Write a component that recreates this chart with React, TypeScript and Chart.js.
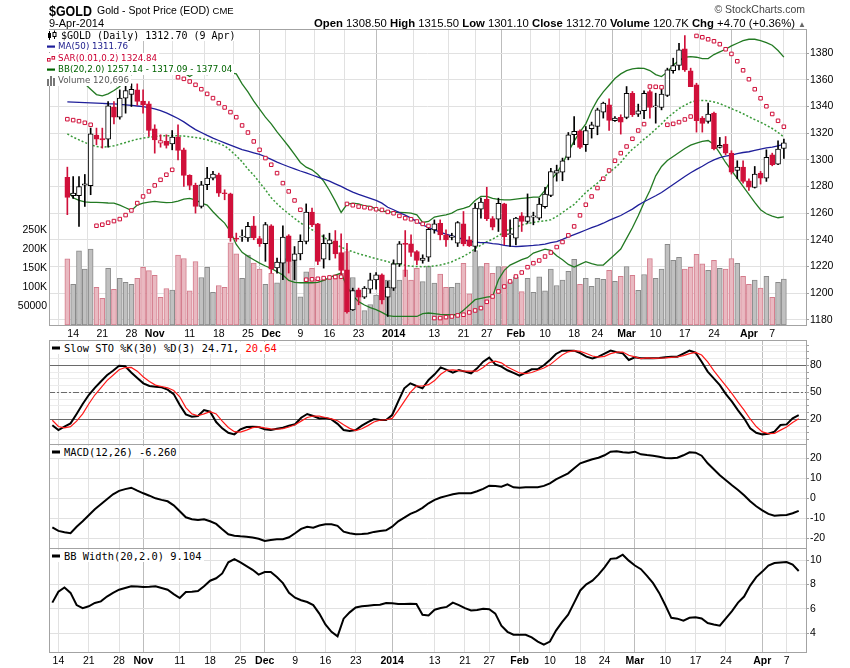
import React, { useEffect, useRef } from 'react';
import { Chart, registerables } from 'chart.js';
Chart.register(...registerables);

// ---------------- DATA ----------------
const DATES = [
  '2013-10-11','2013-10-14','2013-10-15','2013-10-16','2013-10-17','2013-10-18','2013-10-21','2013-10-22','2013-10-23','2013-10-24',
  '2013-10-25','2013-10-28','2013-10-29','2013-10-30','2013-10-31','2013-11-01','2013-11-04','2013-11-05','2013-11-06','2013-11-07',
  '2013-11-08','2013-11-11','2013-11-12','2013-11-13','2013-11-14','2013-11-15','2013-11-18','2013-11-19','2013-11-20','2013-11-21',
  '2013-11-22','2013-11-25','2013-11-26','2013-11-27','2013-11-29','2013-12-02','2013-12-03','2013-12-04','2013-12-05','2013-12-06',
  '2013-12-09','2013-12-10','2013-12-11','2013-12-12','2013-12-13','2013-12-16','2013-12-17','2013-12-18','2013-12-19','2013-12-20',
  '2013-12-23','2013-12-24','2013-12-26','2013-12-27','2013-12-30','2013-12-31','2014-01-02','2014-01-03','2014-01-06','2014-01-07',
  '2014-01-08','2014-01-09','2014-01-10','2014-01-13','2014-01-14','2014-01-15','2014-01-16','2014-01-17','2014-01-21','2014-01-22',
  '2014-01-23','2014-01-24','2014-01-27','2014-01-28','2014-01-29','2014-01-30','2014-01-31','2014-02-03','2014-02-04','2014-02-05',
  '2014-02-06','2014-02-07','2014-02-10','2014-02-11','2014-02-12','2014-02-13','2014-02-14','2014-02-18','2014-02-19','2014-02-20',
  '2014-02-21','2014-02-24','2014-02-25','2014-02-26','2014-02-27','2014-02-28','2014-03-03','2014-03-04','2014-03-05','2014-03-06',
  '2014-03-07','2014-03-10','2014-03-11','2014-03-12','2014-03-13','2014-03-14','2014-03-17','2014-03-18','2014-03-19','2014-03-20',
  '2014-03-21','2014-03-24','2014-03-25','2014-03-26','2014-03-27','2014-03-28','2014-03-31','2014-04-01','2014-04-02','2014-04-03',
  '2014-04-04','2014-04-07','2014-04-08','2014-04-09'
];

const OPEN = [
  1286.8,1273,1273,1281,1280.5,1318.5,1316,1315.5,1339.5,1332,
  1346.3,1349,1352.5,1344,1342,1323.3,1312.5,1313.8,1312,1317,
  1307.5,1288.3,1280.8,1265,1281.3,1286.3,1288.8,1275,1274.5,1241,
  1242,1241.3,1250.5,1240.8,1237,1250.5,1218.8,1222.5,1243,1224.4,
  1229.4,1238.7,1260.7,1251.9,1225.4,1236.9,1239.2,1230.4,1217.4,1187.4,
  1202.4,1196.9,1202.9,1209.9,1213.7,1196.9,1203.7,1221.9,1237.4,1236.9,
  1231.2,1224.4,1226.9,1247.4,1252.4,1243.7,1241.7,1237.4,1251.9,1239.9,
  1234.9,1262.9,1270.4,1255.9,1255.4,1266.9,1243.9,1241.2,1257.9,1253.7,
  1256.9,1256.2,1264.9,1273.2,1290,1290.8,1301.8,1318.8,1321.8,1311.3,
  1323.3,1325,1335.8,1341.3,1329.3,1331.8,1331.8,1350,1334.3,1336.8,
  1351.3,1339.8,1339.3,1348.3,1367,1370.8,1383.3,1366.8,1356.3,1331.3,
  1328.8,1335,1309.3,1311.8,1305,1292,1294.5,1284.3,1279.3,1290,
  1286.3,1303.8,1296.8,1308.5
];
const HIGH = [
  1294.5,1287.5,1287.5,1289,1323.8,1323.8,1323.8,1343.8,1343.8,1352.5,
  1356.3,1357,1357,1352.5,1343.8,1326.3,1318.8,1318.8,1322,1326.3,
  1308.8,1288.8,1282.5,1283.8,1294.3,1291.3,1290,1277.5,1275,1245,
  1247.5,1253,1257.5,1242.5,1253,1251.3,1226.3,1250.5,1243.8,1234.9,
  1243.7,1266.9,1263.7,1252.4,1243.7,1244.9,1246.9,1244.4,1237.4,1203.7,
  1203.7,1204.9,1214.9,1215.4,1214.4,1208.7,1224.9,1238.7,1246.9,1243.7,
  1231.9,1228.7,1250,1254.9,1254.9,1247.4,1244.9,1253.7,1261.2,1242.4,
  1267.4,1271.2,1279.4,1257.4,1271.2,1267.4,1254.9,1256.9,1260.4,1274.4,
  1260.7,1271.2,1279.4,1293.7,1296,1301.3,1320.5,1332.5,1322.5,1325,
  1328.3,1338.8,1343.3,1345.8,1332.5,1333.8,1355,1351.3,1341.8,1351.8,
  1352.5,1350,1355,1368.8,1376.3,1387.5,1393.3,1368.8,1357.5,1332.5,
  1342.5,1335.8,1316.8,1317.5,1306.8,1299.3,1299.3,1285.8,1295,1291.3,
  1307.5,1305,1314.3,1315.5
];
const LOW = [
  1258.8,1271,1250,1265,1273.8,1311.3,1308.8,1309.5,1327,1330.5,
  1335,1340,1341,1335,1317.5,1305,1309.5,1308.8,1307.5,1300,
  1280,1277.5,1260,1263.8,1277.5,1285,1272.5,1270,1238.8,1238.8,
  1238.8,1238.8,1240,1235,1223.8,1215,1215,1210,1215,1210,
  1224.9,1236.9,1249.9,1221.2,1218.7,1224.9,1226.2,1212.4,1184.9,1186.9,
  1191.2,1195.9,1199.9,1202.9,1191.9,1182.4,1201.9,1219.9,1212.4,1227.4,
  1221.2,1222.4,1223.7,1244.9,1239.9,1234.9,1239.9,1234.9,1235.4,1234.9,
  1231.2,1256.2,1254.4,1247.4,1246.2,1236.2,1234.9,1236.2,1246.2,1252.4,
  1251.2,1254.9,1263.7,1272.4,1284,1284.3,1300,1311.3,1308.3,1306.3,
  1316.3,1318.8,1331.3,1322,1328.8,1319.3,1330.8,1332.5,1332.5,1330.8,
  1331.3,1327.5,1337.5,1347.5,1365,1367.5,1366.3,1355,1320.8,1320.8,
  1327.5,1307.5,1308.8,1303.8,1289.3,1285.8,1282.5,1277,1278.8,1281.8,
  1283.8,1295.5,1296.3,1301.1
];
const CLOSE = [
  1271.8,1275,1280,1282,1319.5,1315.5,1315,1340.5,1332,1346.3,
  1352,1353,1343.8,1341.3,1322,1315,1314.5,1310.8,1317,1307,
  1288.3,1280.8,1265,1281.3,1286.3,1289.3,1275,1274.5,1241.3,1240.5,
  1242.5,1250,1241.3,1237,1251.3,1218,1223.3,1242,1223.8,1229.4,
  1238.9,1260.7,1251.2,1223.7,1237.4,1239.9,1229.4,1216.9,1185.9,1201.9,
  1196.9,1203.7,1209.9,1213.7,1194.9,1204.4,1221.9,1236.9,1236.4,1230.4,
  1224.4,1226.2,1247.9,1251.9,1243.7,1239.9,1242.9,1252.9,1236.9,1235.4,
  1263.7,1268.2,1255.9,1249.4,1267.4,1242.4,1244.4,1256.2,1253.7,1257.4,
  1257.9,1266.7,1274.2,1291.2,1292,1299.3,1318.8,1321.3,1309.3,1322,
  1326.3,1337.5,1342.5,1329.5,1331.3,1328.3,1350,1333.8,1336.8,1350,
  1339.3,1340.3,1349.3,1367.5,1370.8,1382.5,1367.5,1355,1329.3,1327.3,
  1334.3,1308.3,1310.8,1305,1290.8,1294.5,1283.8,1279.5,1289.3,1286.3,
  1301.8,1296.3,1308,1312.7
];
// volume in thousands
const VOLUME = [
  174,107,195,147,200,99,70,149,94,123,
  112,107,123,152,143,131,73,96,92,184,
  175,90,167,125,152,86,104,99,216,187,
  123,184,163,147,107,136,111,175,168,178,
  74,140,149,120,118,123,132,136,193,125,
  75,38,54,79,92,118,162,118,145,118,
  149,114,155,110,134,99,99,110,162,82,
  196,154,162,136,154,154,114,127,88,123,
  86,127,90,147,104,118,141,173,107,123,
  102,123,120,144,115,128,154,131,91,133,
  175,123,147,212,170,178,147,152,186,161,
  144,170,149,147,175,162,128,107,118,97,
  128,73,112,120.7
];
const MA50 = [
  1343.5,1343.3,1343.1,1342.9,1342.7,1342.5,1342.3,1342.1,1342,1341.6,
  1341.2,1340.8,1340.4,1340,1339.2,1338.2,1337,1335.2,1333.2,1331,
  1328.5,1325.5,1322.7,1320.5,1318.3,1316.3,1314.5,1312.7,1311,1309.3,
  1307.7,1306.5,1305.3,1304,1302.3,1300.3,1298.3,1296.5,1294.8,1293.2,
  1291.6,1290.2,1288.6,1287,1285.5,1284,1282,1280,1277.8,1275.8,
  1274,1272.5,1271,1269.5,1267.5,1264.4,1262.5,1260.4,1258.5,1256.2,
  1253.6,1251.1,1249.2,1247.4,1245.8,1244.3,1242.9,1241.7,1240.1,1238.7,
  1238.2,1237.9,1237.8,1237.1,1236.7,1235.8,1235.2,1234.8,1235.1,1235.4,
  1235.7,1236.1,1236.7,1237.8,1238.6,1240.3,1242.2,1243.8,1245.5,1247.3,
  1249.1,1250.6,1252.4,1254.5,1256.4,1258.2,1260.6,1263,1266,1268.5,
  1270.8,1273,1275.5,1278.5,1281.5,1284.5,1287.5,1290.3,1292.8,1295.2,
  1297.8,1300,1301.6,1302.7,1303.6,1304.7,1305.5,1306.05,1307.1,1308.1,
  1308.9,1309.45,1310.5,1311.76
];
const SAR = [
  1330.5,1329.8,1329,1327.8,1326.3,
  1250.5,1251.3,1252.8,1254,1255.5,1258.5,1262,1267.5,1272.5,1276.3,1280.8,1285,1288.8,1292.5,
  1362,1360.8,1358.8,1356.3,1353,1349.5,1346.3,1342.5,1339.3,1335.8,1332,1325.8,1320.5,1313.8,1307.5,1301.3,1296.3,1290,1282.5,1276.3,1269.5,1262.5,
  1210,1210.3,1210.7,1211.2,1211.7,1212,1212.2,
  1266.9,1265.9,1264.9,1264.4,1263.7,1262.9,1262.4,1260.9,1259.9,1257.9,1256.2,1255.4,1253.7,1251.9,1250.4,
  1181.2,1181.2,1181.9,1182.4,1183.2,1183.7,1185.4,1186.9,1188.7,1193.4,1197.4,1201.2,1204.9,1208.7,1212.4,1215.4,1219.4,1222.4,1224.4,1227.4,1230.4,1234.5,1238.3,1243.3,1250,1258.3,1266.3,1272.5,1278.8,1285.8,1292,1299.3,1305,1310,1315.8,1322,1326.8,
  1355,1354.8,1354.5,
  1326.3,1327,1328.3,1330.3,1332.5,
  1393,1392,1390.5,1389,1386.8,1383,1379.5,1374,1367.2,1360.5,1353,1346.2,1340.2,1334.4,1329.3,1324.84
];
const BB_UP = [
  1364,1362,1360,1357,1353,1349,1348,1349.5,1352,1355,
  1361,1364,1366,1368,1368.5,1368.7,1369.4,1369.7,1368.7,1367.8,
  1365.2,1362.6,1365.4,1364.7,1364,1365,1366.7,1366.2,1365.2,1364.5,
  1357,1351,1344,1338,1332,1327,1321,1315.5,1310,1304,
  1298,1294.5,1292.5,1289,1284,1277,1269,1260.5,1266.5,1267.5,
  1267,1265.5,1265,1263,1261.5,1261,1260.5,1260.5,1260.3,1260,
  1258.7,1253,1253.7,1257,1258,1258.7,1260,1262.5,1263.5,1265,
  1269.5,1272.5,1272.5,1271,1270.3,1270,1270,1270.5,1271,1271.5,
  1272,1272,1277,1285,1290,1297,1306,1314,1321,1327,
  1337,1345,1351,1356,1361,1364.5,1367,1368.3,1368.8,1368.7,
  1367,1364,1362.5,1366,1371,1374.5,1377,1377.5,1377,1376,
  1376,1379,1381,1383,1385.5,1387.5,1389.5,1390.5,1390.5,1389.5,
  1388,1386,1382,1377.04
];
const BB_MID = [
  1319.5,1317,1315,1313,1311.3,1310,1309.5,1309.8,1310.5,1311.7,
  1313,1314.3,1315.5,1316.3,1317,1317.5,1318,1318,1318,1318,
  1317.8,1317.3,1316.8,1316,1315,1313.5,1312.2,1310.5,1307,1303,
  1298.5,1293,1288.5,1283,1277.5,1271.5,1267,1263,1259.5,1256,
  1252.7,1250,1247.5,1245,1242,1239,1236.5,1234.5,1232.5,1231,
  1229.5,1228.3,1227,1225.8,1224.7,1223.5,1222.3,1221.5,1220.8,1220.2,
  1219.9,1219.8,1219.9,1220.3,1221,1222,1223.5,1225.5,1227.5,1230,
  1233.5,1236,1238.5,1240.5,1243,1246,1248,1249.5,1251,1252.2,
  1253,1253.7,1254.2,1255,1257.5,1260.5,1263.5,1266.5,1271,1275.5,
  1279,1282.5,1286.5,1290.5,1294,1298,1303.5,1308,1311.5,1315.5,
  1319,1323,1327,1331.5,1335,1338.5,1341,1343.2,1344.3,1344.6,
  1344.4,1343.4,1342.2,1340.3,1338.4,1336.6,1334.6,1332.3,1330.2,1328.2,
  1326,1323.5,1320.5,1317.09
];
const BB_LO = [
  1277,1271.5,1269.5,1268.5,1268,1268,1267.8,1267.6,1267.5,1266,
  1264,1262,1266,1267.5,1268.3,1268.8,1268.3,1267.8,1268,1269,
  1270.5,1271,1270,1267.5,1266,1261,1256.5,1252.5,1246,1236.5,
  1230.5,1227.5,1225,1222.5,1220.3,1218.5,1216,1213.5,1209.5,1208,
  1207.7,1207.7,1207.7,1208,1209.5,1211.5,1213.5,1215,1205,1198,
  1193.5,1191,1189,1187.5,1185.5,1183,1182.5,1182.4,1182.4,1182.4,
  1182.4,1184.5,1185,1184.5,1184,1183.7,1183.7,1183.7,1187,1191,
  1195,1196,1197,1197.5,1210,1217,1221,1223,1225,1226.5,
  1230,1231.5,1233,1232,1228,1225,1221.5,1219.5,1221.5,1223.5,
  1222,1221,1221,1225,1229,1233,1241,1249,1258,1268,
  1277,1288,1295,1299.5,1302.5,1305.5,1308.5,1311,1312.5,1313.8,
  1314.5,1311.5,1305,1298,1292,1286,1280,1274,1268,1262.5,
  1259.5,1257.8,1256.5,1257.14
];
const STO_K = [
  13.5,8,12,15.5,26,37,47,55,62,69,
  74,79.6,79,72,66,60,57,56.3,55.5,53,
  48,36,25.5,23,23.7,30.3,28.5,17,10,5,
  3.3,8.9,11.5,11.8,11.5,8.9,8.1,9.5,10.7,13,
  14.5,21.8,25.9,23.7,21,21.5,20,15,8.1,7,
  8.1,13,17,20.3,19.2,19.2,24.8,40,54.4,60,
  57,54.4,63.7,70,77.7,75,71.8,74.8,73,71.1,
  76.6,84,88.5,81.1,78.5,74.5,71.5,68.5,72,75.5,
  75.9,80,86,92.6,96.3,96.3,96.3,93.5,89.6,87.7,
  89.6,93,96.3,94.5,93.3,85.9,88.9,87.8,87.8,87.8,
  88,89,89.6,89.6,93,96.3,94,84,73,65.5,
  58,48,39.6,30,21.1,10,5,3.3,4,6.3,
  13.7,14.4,21.1,24.71
];
const STO_D = [
  19,12,10.5,11.8,18,26,37,47,55,63,
  69,75,77.5,77.7,73.5,67,62,58,56.5,55,
  52,45,33,26,24,26,28.5,26,18,11,
  6.3,5.8,8,10.7,11.7,10.5,9.5,9,9.7,11.5,
  14,18,22,23.7,23.5,22,20.5,18.5,14,10,
  7.5,9.5,13,17,19,19.5,21,30,40,50,
  57,57,58.5,63,70,74.5,75,74,73.5,73.5,
  73.5,77.5,83,84.7,82.7,78,74.8,71.5,70.7,72,
  74.5,77,80.5,86,91.5,95,96.3,95.4,93.1,90.3,
  89,90,93,94.6,94.7,91.2,89.4,87.5,88.2,87.8,
  88,88.3,88.9,89.4,90.7,93,94.4,91.4,83.7,74,
  65.5,57.2,48.5,39.2,30.2,20.4,12,6.1,4.1,4.5,
  8,11.5,16.5,20.64
];
const MACD = [
  -14.5,-16.3,-17,-17.5,-14.2,-11.5,-8.5,-5.5,-3,-0.5,
  2,3.7,4.6,5.3,3.8,2.5,1.3,0,-0.8,-1.5,
  -3.5,-6.5,-9.5,-10.5,-10.8,-10.5,-11.5,-12.8,-15.5,-18,
  -18.7,-19,-19.2,-19.6,-20.2,-21.3,-20.8,-20.5,-20.5,-19.5,
  -17.5,-15.3,-14.2,-14.7,-13.6,-13,-13,-13.8,-16.7,-17.5,
  -18,-17.9,-17.6,-16.8,-16.3,-16,-14.2,-11.5,-9.7,-7.8,
  -6.5,-4.8,-2.5,-0.8,0.4,1.2,2,2.5,2.5,2.5,
  3.5,4.7,6.3,6.2,5.8,7,5.5,5.3,5.5,5.5,
  5.5,6.2,7.5,9.5,11,12.5,15,17.5,18.5,19.5,
  20.3,21.5,23.3,23.5,23,22.8,23.3,22,21.6,21.3,
  20.8,20.2,20,20.3,21.5,23,22.8,21.3,17.5,14.5,
  11.5,9,6.5,4.2,1.5,-1.5,-4,-6,-7.8,-8.7,
  -8.5,-8.3,-7.5,-6.26
];
const BBW = [
  6.5,7.4,7.75,7.3,6.3,6.05,6.2,6.47,6.6,7.0,
  7.3,7.56,7.7,7.84,7.82,7.78,7.8,7.84,7.7,7.56,
  7.2,6.88,7.37,7.4,7.45,7.84,8.3,8.5,8.9,9.81,
  10.08,9.8,9.5,9.2,8.8,9.01,9.01,8.6,8.1,7.3,
  6.9,6.7,6.55,6.3,5.6,4.7,4.1,3.73,5.18,5.7,
  6.1,6.2,6.25,6.3,6.33,6.47,6.45,6.38,6.38,6.4,
  6.38,5.5,5.45,5.92,6.05,6.15,6.5,6.3,6.05,5.85,
  5.89,6.0,5.95,5.6,4.6,4.1,3.86,3.86,3.86,3.64,
  3.3,3.04,3.3,4.2,4.9,5.51,6.5,7.5,8.0,8.3,
  8.8,9.4,10.1,10.15,10.44,9.95,9.55,9.25,8.7,8.1,
  7.3,6.3,5.25,5.18,5.01,5.25,5.29,5.2,4.82,4.7,
  4.6,5.2,5.8,6.5,7.0,7.9,8.6,9.05,9.55,9.75,
  9.8,9.84,9.62,9.104
];

const TICK_IDX = [1,6,11,15,21,26,31,35,40,45,50,56,63,68,72,77,82,87,91,96,101,106,111,117,121];
const TICK_LABELS = ['14','21','28','Nov','11','18','25','Dec','9','16','23','2014','13','21','27','Feb','10','18','24','Mar','10','17','24','Apr','7'];
const PRICE_TICKS = [1180,1200,1220,1240,1260,1280,1300,1320,1340,1360,1380];
const VOL_TICKS = [50,100,150,200,250];
const VOL_LABELS = ['50000','100K','150K','200K','250K'];
const STO_TICKS = [-2.5,5,12.5,20,27.5,35,42.5,50,57.5,65,72.5,80,87.5,95,102.5];
const STO_LABELED = [20,50,80];
const MACD_TICKS = [-20,-10,0,10,20];
const BBW_TICKS = [4,6,8,10];

// ---------------- STYLE ----------------
const FONT_UI = '"Liberation Sans", Arial, sans-serif';
const FONT_LEG = '"DejaVu Sans", Verdana, sans-serif';
const FONT_MONO = '"DejaVu Sans Mono", monospace';
const RED = '#d0103a';
const NAVY = '#1f1f9a';
const GREEN = '#237a23';
const GREEN_DOT = '#3a9a3a';
const X_MIN = -0.55;
const X_MAX = 124.2;

Chart.defaults.font.family = FONT_UI;
Chart.defaults.color = '#000';

const isBold = (i: number) => /[A-Za-z]/.test(TICK_LABELS[i] || '') || (TICK_LABELS[i] || '').length === 4;
const pts = (arr: number[]) => arr.map((v, i) => ({ x: i, y: v }));

const panelPlugin = {
  id: 'panel',
  beforeDatasetsDraw(chart: any, _a: any, opts: any) {
    const { ctx, chartArea: a, scales } = chart;
    for (const l of (opts.lines || [])) {
      const y = Math.round(scales.y.getPixelForValue(l.v)) + 0.5;
      ctx.save();
      ctx.strokeStyle = l.color;
      ctx.lineWidth = 1;
      ctx.setLineDash(l.dash || []);
      ctx.beginPath();
      ctx.moveTo(a.left, y);
      ctx.lineTo(a.right, y);
      ctx.stroke();
      ctx.restore();
    }
  },
  afterDraw(chart: any) {
    const { ctx, chartArea: a } = chart;
    ctx.save();
    ctx.strokeStyle = '#a3a3a3';
    ctx.lineWidth = 1;
    ctx.strokeRect(Math.round(a.left) + 0.5, Math.round(a.top) + 0.5, Math.round(a.right - a.left), Math.round(a.bottom - a.top));
    ctx.restore();
  },
};

function xScale(showLabels: boolean, height: number) {
  return {
    type: 'linear',
    position: 'bottom',
    min: X_MIN,
    max: X_MAX,
    afterBuildTicks: (s: any) => { s.ticks = TICK_IDX.map((v) => ({ value: v })); },
    afterFit: (s: any) => { s.height = height; },
    ticks: {
      display: showLabels,
      autoSkip: false,
      maxRotation: 0,
      minRotation: 0,
      padding: 3,
      color: '#000',
      callback: (_v: any, i: number) => TICK_LABELS[i],
      font: (c: any) => ({ family: FONT_UI, size: 10.5, weight: isBold(c.index) ? 'bold' : 'normal' }),
    },
    grid: {
      drawTicks: false,
      color: (c: any) => (isBold(c.index) ? '#bdbdbd' : '#e1e1e1'),
      lineWidth: 1,
    },
    border: { display: false },
  };
}

function yRight(min: number, max: number, ticks: number[], label: (v: number) => string, gridColor: any) {
  return {
    type: 'linear',
    position: 'right',
    min,
    max,
    afterBuildTicks: (s: any) => { s.ticks = ticks.map((v) => ({ value: v })); },
    afterFit: (s: any) => { s.width = 44; },
    ticks: { autoSkip: false, padding: 1, color: '#000', font: { family: FONT_UI, size: 10.5 }, callback: (v: any) => label(v) },
    grid: { drawTicks: true, tickLength: 3, tickColor: '#a0a0a0', color: gridColor },
    border: { display: false },
  };
}

const baseOpts = {
  responsive: false,
  maintainAspectRatio: false,
  animation: false,
  events: [],
  plugins: { legend: { display: false }, tooltip: { enabled: false } },
};

function mainConfig(): any {
  const down = CLOSE.map((c, i) => (i === 0 ? c < OPEN[0] : c < CLOSE[i - 1]));
  const cColor = down.map((d) => (d ? RED : '#000'));
  const bodyFill = CLOSE.map((c, i) => (c < OPEN[i] ? cColor[i] : '#ffffff'));
  const volFill = down.map((d) => (d ? '#e9b9c1' : '#c0c0c0'));
  const volBorder = down.map((d) => (d ? '#d47c8c' : '#8a8a8a'));
  return {
    type: 'bar',
    data: {
      datasets: [
        { type: 'bar', yAxisID: 'yv', data: pts(VOLUME), backgroundColor: volFill, borderColor: volBorder, borderWidth: 1, borderSkipped: false, barThickness: 5, grouped: false, order: 10 },
        { type: 'line', yAxisID: 'y', data: pts(BB_UP), borderColor: GREEN, borderWidth: 1.3, pointRadius: 0, tension: 0, order: 6 },
        { type: 'line', yAxisID: 'y', data: pts(BB_LO), borderColor: GREEN, borderWidth: 1.3, pointRadius: 0, tension: 0, order: 6 },
        { type: 'line', yAxisID: 'y', data: pts(BB_MID), borderColor: GREEN_DOT, borderWidth: 1.5, borderDash: [2, 2], pointRadius: 0, tension: 0, order: 6 },
        { type: 'line', yAxisID: 'y', data: pts(MA50), borderColor: NAVY, borderWidth: 1.3, pointRadius: 0, tension: 0, order: 5 },
        { type: 'bar', yAxisID: 'y', data: LOW.map((l, i) => ({ x: i, y: [l, HIGH[i]] })), backgroundColor: cColor, borderWidth: 0, barThickness: 1, grouped: false, order: 4 },
        { type: 'bar', yAxisID: 'y', data: OPEN.map((o, i) => ({ x: i, y: [o, CLOSE[i]] })), backgroundColor: bodyFill, borderColor: cColor, borderWidth: 1, borderSkipped: false, barThickness: 5, minBarLength: 1, grouped: false, order: 3 },
        { type: 'line', yAxisID: 'y', data: pts(SAR), showLine: false, pointStyle: 'rect', pointRadius: 2.5, pointBorderWidth: 1, pointBorderColor: RED, pointBackgroundColor: '#ffffff', order: 1 },
      ],
    },
    options: {
      ...baseOpts,
      layout: { padding: { top: 29, left: 0, right: 0, bottom: 0 } },
      plugins: { ...baseOpts.plugins, panel: { lines: [] } },
      scales: {
        x: xScale(true, 20),
        y: yRight(1176.0, 1398.2, PRICE_TICKS, (v) => String(v), '#e1e1e1'),
        yv: {
          type: 'linear',
          position: 'left',
          min: 0,
          max: 779,
          afterBuildTicks: (s: any) => { s.ticks = VOL_TICKS.map((v) => ({ value: v })); },
          afterFit: (s: any) => { s.width = 49; },
          ticks: { autoSkip: false, padding: 2, color: '#000', font: { family: FONT_UI, size: 10.5 }, callback: (_v: any, i: number) => VOL_LABELS[i] },
          grid: { display: false, drawTicks: false },
          border: { display: false },
        },
      },
    },
    plugins: [panelPlugin],
  };
}

function stoConfig(): any {
  return {
    type: 'line',
    data: {
      datasets: [
        { data: pts(STO_D), borderColor: '#ff1a1a', borderWidth: 1.2, pointRadius: 0, tension: 0, order: 0 },
        { data: pts(STO_K), borderColor: '#000', borderWidth: 2, pointRadius: 0, tension: 0, order: 1 },
      ],
    },
    options: {
      ...baseOpts,
      layout: { padding: { top: 20, left: 49, right: 0, bottom: 12 } },
      plugins: {
        ...baseOpts.plugins,
        panel: { lines: [
          { v: 80, color: '#6a6a6a' },
          { v: 20, color: '#6a6a6a' },
          { v: 50, color: '#6a6a6a', dash: [6, 2, 2, 2] },
        ] },
      },
      scales: {
        x: xScale(false, 0),
        y: yRight(-7.4, 108.1, STO_TICKS, (v) => (STO_LABELED.includes(v) ? String(v) : ''), '#ececec'),
      },
    },
    plugins: [panelPlugin],
  };
}

function lineConfig(values: number[], min: number, max: number, ticks: number[], padBottom: number, showX: boolean): any {
  return {
    type: 'line',
    data: { datasets: [{ data: pts(values), borderColor: '#000', borderWidth: 2, pointRadius: 0, tension: 0 }] },
    options: {
      ...baseOpts,
      layout: { padding: { top: 20, left: 49, right: 0, bottom: padBottom } },
      plugins: { ...baseOpts.plugins, panel: { lines: [] } },
      scales: {
        x: xScale(showX, showX ? 16 : 0),
        y: yRight(min, max, ticks, (v) => String(v), '#e1e1e1'),
      },
    },
    plugins: [panelPlugin],
  };
}

// ---------------- LEGEND PIECES ----------------
const LineIcon = ({ color }: { color: string }) => (
  <svg width="11" height="11" style={{ display: 'block' }}><rect x="0" y="4.5" width="8" height="2.2" fill={color} /></svg>
);
const SarIcon = () => (
  <svg width="11" height="11" style={{ display: 'block' }}>
    <rect x="0.5" y="5.5" width="2.6" height="2.6" fill="#fff" stroke={RED} strokeWidth="1" />
    <rect x="5" y="3.5" width="2.6" height="2.6" fill="#fff" stroke={RED} strokeWidth="1" />
  </svg>
);
const CandleIcon = () => (
  <svg width="14" height="11" style={{ display: 'block' }}>
    <line x1="2.5" y1="1" x2="2.5" y2="10" stroke="#000" />
    <rect x="1" y="3" width="3" height="5" fill="#000" />
    <line x1="7.5" y1="0.5" x2="7.5" y2="9" stroke="#000" />
    <rect x="6" y="2.5" width="3" height="4" fill="#fff" stroke="#000" strokeWidth="1" />
  </svg>
);
const VolIcon = () => (
  <svg width="11" height="11" style={{ display: 'block' }}>
    <rect x="0" y="4" width="2" height="7" fill="#777" />
    <rect x="3" y="1" width="2" height="10" fill="#777" />
    <rect x="6" y="3" width="2" height="8" fill="#777" />
  </svg>
);

function LegendRow(props: { top: number; color: string; font: string; icon: any; children: any }) {
  return (
    <div style={{ position: 'absolute', left: 47, top: props.top, height: 11, display: 'flex', alignItems: 'center', background: '#fff', color: props.color, font: props.font, lineHeight: '11px', whiteSpace: 'nowrap', paddingRight: 2 }}>
      {props.icon}
      <span>{props.children}</span>
    </div>
  );
}

function PanelLegend(props: { top: number; children: any }) {
  return (
    <div style={{ position: 'absolute', left: 50, top: props.top, height: 12, display: 'flex', alignItems: 'center', background: '#fff', color: '#000', font: `10.4px ${FONT_MONO}`, lineHeight: '12px', whiteSpace: 'nowrap', paddingRight: 2 }}>
      <svg width="14" height="12" style={{ display: 'block' }}><rect x="2" y="4.5" width="8" height="3" fill="#000" /></svg>
      <span>{props.children}</span>
    </div>
  );
}

export default function App() {
  const mainRef = useRef<HTMLCanvasElement>(null);
  const stoRef = useRef<HTMLCanvasElement>(null);
  const macdRef = useRef<HTMLCanvasElement>(null);
  const bbwRef = useRef<HTMLCanvasElement>(null);

  useEffect(() => {
    const charts = [
      new Chart(mainRef.current as HTMLCanvasElement, mainConfig()),
      new Chart(stoRef.current as HTMLCanvasElement, stoConfig()),
      new Chart(macdRef.current as HTMLCanvasElement, lineConfig(MACD, -24.85, 27.15, MACD_TICKS, 12, false)),
      new Chart(bbwRef.current as HTMLCanvasElement, lineConfig(BBW, 2.44, 10.99, BBW_TICKS, 0, true)),
    ];
    return () => charts.forEach((c) => c.destroy());
  }, []);

  const abs = (top: number, h: number): any => ({ position: 'absolute', left: 0, top, width: 850, height: h });
  const small = `8.7px ${FONT_LEG}`;

  return (
    <div style={{ position: 'absolute', left: 0, top: 0, width: 850, height: 668, background: '#fff', overflow: 'hidden', fontFamily: FONT_UI }} data-last={DATES[DATES.length - 1]}>
      <canvas ref={mainRef} width={850} height={345} style={abs(0, 345)} />
      <canvas ref={stoRef} width={850} height={136} style={abs(320, 136)} />
      <canvas ref={macdRef} width={850} height={136} style={abs(424, 136)} />
      <canvas ref={bbwRef} width={850} height={140} style={abs(528, 140)} />

      {/* header */}
      <div style={{ position: 'absolute', left: 49, top: 2, font: `bold 15px ${FONT_UI}`, lineHeight: '17px', transform: 'scaleX(0.83)', transformOrigin: 'left top', whiteSpace: 'nowrap' }}>$GOLD</div>
      <div style={{ position: 'absolute', left: 97, top: 4, font: `10.5px ${FONT_UI}`, lineHeight: '13px', whiteSpace: 'nowrap' }}>
        Gold - Spot Price (EOD) <span style={{ fontSize: 9.5 }}>CME</span>
      </div>
      <div style={{ position: 'absolute', left: 49, top: 17, font: `11px ${FONT_UI}`, lineHeight: '13px', whiteSpace: 'nowrap' }}>9-Apr-2014</div>
      <div style={{ position: 'absolute', right: 45, top: 3, font: `10.5px ${FONT_UI}`, lineHeight: '13px', color: '#444', whiteSpace: 'nowrap' }}>© StockCharts.com</div>
      <div style={{ position: 'absolute', right: 44, top: 17, font: `11.3px ${FONT_UI}`, lineHeight: '13px', whiteSpace: 'nowrap' }}>
        <b>Open</b> 1308.50 <b>High</b> 1315.50 <b>Low</b> 1301.10 <b>Close</b> 1312.70 <b>Volume</b> 120.7K <b>Chg</b> +4.70 (+0.36%) <span style={{ color: '#666', fontSize: 8 }}>▲</span>
      </div>

      {/* main legend */}
      <LegendRow top={30} color="#000" font={`10px ${FONT_MONO}`} icon={<CandleIcon />}>$GOLD (Daily) 1312.70 (9 Apr)</LegendRow>
      <LegendRow top={41} color="#1a1a8a" font={small} icon={<LineIcon color={NAVY} />}>MA(50) 1311.76</LegendRow>
      <LegendRow top={52.5} color="#cc0033" font={small} icon={<SarIcon />}>SAR(0.01,0.2) 1324.84</LegendRow>
      <LegendRow top={64} color="#006400" font={small} icon={<LineIcon color="#006400" />}>BB(20,2.0) 1257.14 - 1317.09 - 1377.04</LegendRow>
      <LegendRow top={74.5} color="#555" font={small} icon={<VolIcon />}>Volume 120,696</LegendRow>

      {/* lower panel legends */}
      <PanelLegend top={342}>Slow STO %K(30) %D(3) 24.71, <span style={{ color: '#ff0000' }}>20.64</span></PanelLegend>
      <PanelLegend top={446}>MACD(12,26) -6.260</PanelLegend>
      <PanelLegend top={549.5}>BB Width(20,2.0) 9.104</PanelLegend>
    </div>
  );
}
